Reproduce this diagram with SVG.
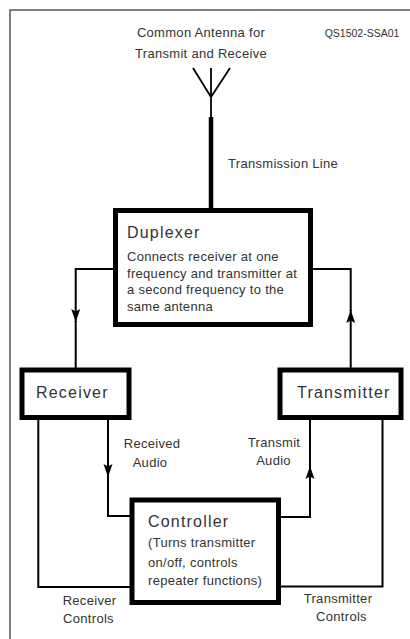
<svg xmlns="http://www.w3.org/2000/svg" width="410" height="639" viewBox="0 0 410 639">
  <defs>
    <style>
      .frame { fill: none; stroke: #555; stroke-width: 1.5; }
      .wire { fill: none; stroke: #000; stroke-width: 2; }
      .thin { fill: none; stroke: #000; stroke-width: 1.8; }
      .box { fill: #fff; stroke: #000; stroke-width: 5; }
      .t { font-family: "Liberation Sans", Arial, sans-serif; fill: #333; }
      .title { font-size: 16px; letter-spacing: 1.2px; }
      .body { font-size: 13px; letter-spacing: 0.3px; }
      .mid { text-anchor: middle; }
    </style>
    <marker id="arr" markerUnits="userSpaceOnUse" markerWidth="14" markerHeight="10" viewBox="0 0 14 10" refX="13" refY="5" orient="auto">
      <path d="M13,5 L0,0.5 L2.5,5 L0,9.5 Z" fill="#000"/>
    </marker>
  </defs>
  <rect x="0" y="0" width="410" height="639" fill="#fff"/>
  <path class="frame" d="M410,10 H10 V639"/>

  <g id="antenna">
    <path class="thin" d="M193,68 L211,97 L230,68 M211,68 V118"/>
    <text class="t body mid" x="201" y="37">Common Antenna for</text>
    <text class="t body mid" x="201" y="57.5">Transmit and Receive</text>
  </g>
  <text class="t" x="362" y="37" font-size="10.5" text-anchor="middle">QS1502-SSA01</text>

  <g id="connectors">
    <path d="M211,117 V209" fill="none" stroke="#000" stroke-width="4.5"/>
    <text class="t body" x="228" y="168">Transmission Line</text>
    <path class="wire" d="M114,269 H75.7 V322" marker-end="url(#arr)"/>
    <path class="wire" d="M75.7,321 V369"/>
    <path class="wire" d="M350.7,369 V310" marker-end="url(#arr)"/>
    <path class="wire" d="M350.7,311 V269 H312"/>
    <path class="wire" d="M108,418 V477" marker-end="url(#arr)"/>
    <path class="wire" d="M108,476 V516 H131"/>
    <path class="wire" d="M280,517 H310 V466" marker-end="url(#arr)"/>
    <path class="wire" d="M310,467 V418"/>
    <path class="wire" d="M38.3,418 V587 H131"/>
    <path class="wire" d="M382.5,418 V586.5 H280"/>
    <text class="t body mid" x="152" y="448">Received</text>
    <text class="t body mid" x="150" y="466.5">Audio</text>
    <text class="t body mid" x="274" y="446.7">Transmit</text>
    <text class="t body mid" x="273.5" y="465">Audio</text>
    <text class="t body mid" x="89.5" y="605">Receiver</text>
    <text class="t body mid" x="88.5" y="622.7">Controls</text>
    <text class="t body mid" x="338" y="602.7">Transmitter</text>
    <text class="t body mid" x="341.5" y="620.7">Controls</text>
  </g>

  <g id="duplexer">
    <rect class="box" x="115.5" y="210.5" width="195" height="114"/>
    <text class="t title" x="127" y="237.5">Duplexer</text>
    <text class="t body" x="127" y="261">Connects receiver at one</text>
    <text class="t body" x="127" y="277.5">frequency and transmitter at</text>
    <text class="t body" x="127" y="294">a second frequency to the</text>
    <text class="t body" x="127" y="310.5">same antenna</text>
  </g>

  <g id="receiver">
    <rect class="box" x="22" y="370" width="107" height="47.5"/>
    <text class="t title" x="36" y="398.3">Receiver</text>
  </g>

  <g id="transmitter">
    <rect class="box" x="280" y="370" width="121" height="47.5"/>
    <text class="t title" x="297" y="398.3">Transmitter</text>
  </g>

  <g id="controller">
    <rect class="box" x="132" y="500" width="146.5" height="102.5"/>
    <text class="t title" x="148" y="526.5">Controller</text>
    <text class="t body" x="148" y="547">(Turns transmitter</text>
    <text class="t body" x="148" y="566.5">on/off, controls</text>
    <text class="t body" x="148" y="585">repeater functions)</text>
  </g>
</svg>
